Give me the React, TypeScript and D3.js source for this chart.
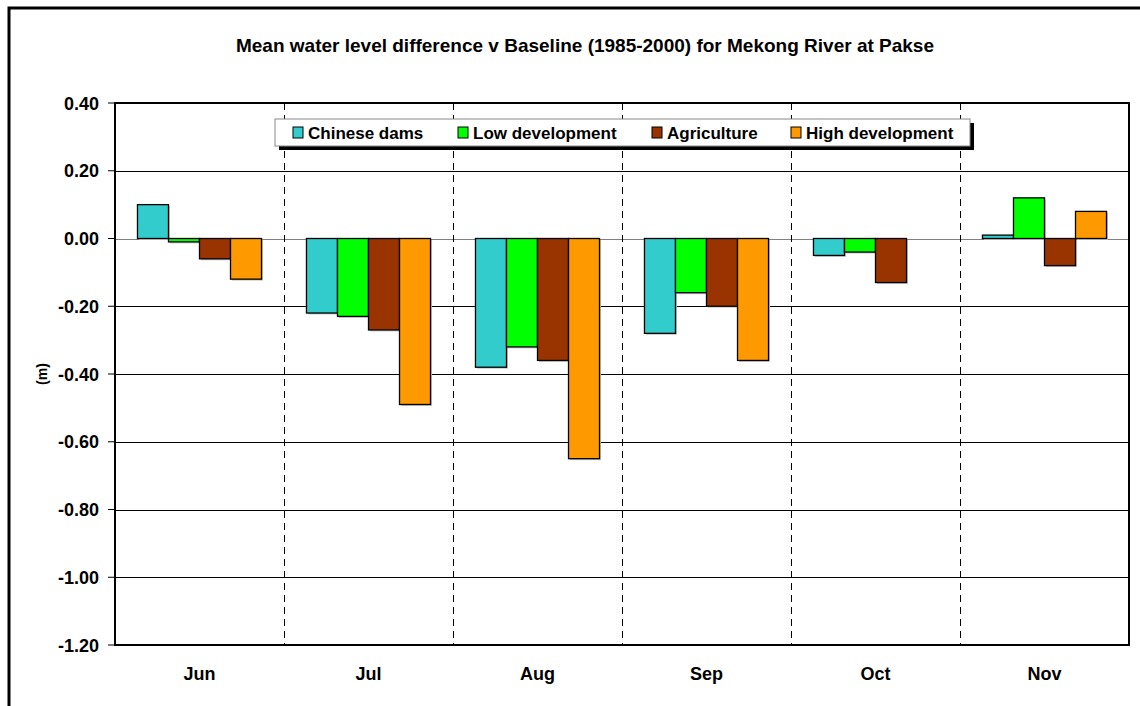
import React from "react";
import * as d3 from "d3";

const months = ["Jun", "Jul", "Aug", "Sep", "Oct", "Nov"];
const seriesNames = ["Chinese dams", "Low development", "Agriculture", "High development"];
const seriesColors = ["#33CCCC", "#00FF00", "#993300", "#FF9900"];
const chineseDams = [0.10, -0.22, -0.38, -0.28, -0.05, 0.01];
const lowDevelopment = [-0.01, -0.23, -0.32, -0.16, -0.04, 0.12];
const agriculture = [-0.06, -0.27, -0.36, -0.20, -0.13, -0.08];
const highDevelopment = [-0.12, -0.49, -0.65, -0.36, 0.0, 0.08];
const yTicks = [0.4, 0.2, 0.0, -0.2, -0.4, -0.6, -0.8, -1.0, -1.2];
const title = "Mean water level difference v Baseline (1985-2000) for Mekong River at Pakse";

export default function App() {
  const W = 1140, H = 706;
  const left = 115, right = 1129, top = 103, bottom = 645;
  const series = [chineseDams, lowDevelopment, agriculture, highDevelopment];
  const x = d3.scaleBand().domain(months).range([left, right]).paddingInner(0).paddingOuter(0);
  const bw = x.bandwidth();
  const inner = d3.scaleBand().domain(seriesNames).range([bw * 0.133, bw * 0.867]).padding(0);
  const y = d3.scaleLinear().domain([-1.2, 0.4]).range([bottom, top]);
  const font = "'Liberation Sans', Arial, Helvetica, sans-serif";
  const fmt = (t: number) => d3.format(".2f")(t).replace("\u2212", "-");

  // legend layout
  const legX = 275, legY = 119, legW = 695, legH = 27;
  const legItemX = [293, 458, 652, 791];

  return (
    <svg width={W} height={H} style={{ position: "absolute", left: 0, top: 0, background: "#fff" }} fontFamily={font}>
      <rect x={0} y={0} width={W} height={H} fill="#fff" />
      {/* outer frame */}
      <rect x={9} y={8} width={1200} height={800} fill="none" stroke="#000" strokeWidth={3} />
      <text x={585} y={52} textAnchor="middle" fontSize={19} fontWeight="bold">{title}</text>

      {/* gridlines */}
      {yTicks.map((t) => (
        <line key={"g" + t} x1={left} x2={right} y1={Math.round(y(t)) + 0.5} y2={Math.round(y(t)) + 0.5}
          stroke={t === 0 ? "#808080" : "#000"} strokeWidth={1} />
      ))}
      {/* vertical dashed separators */}
      {months.slice(1).map((m) => (
        <line key={"v" + m} x1={Math.round(x(m)!) + 0.5} x2={Math.round(x(m)!) + 0.5} y1={top} y2={bottom}
          stroke="#000" strokeWidth={1} strokeDasharray="7,5" />
      ))}

      {/* bars */}
      {months.map((m, i) =>
        series.map((s, j) => {
          const v = s[i];
          if (v === 0) return null;
          const bx = x(m)! + inner(seriesNames[j])!;
          const y0 = y(Math.max(0, v));
          const h = Math.abs(y(v) - y(0));
          return (
            <g key={m + j}>
              <rect x={bx + 1.5} y={y0 + 1.5} width={inner.bandwidth()} height={h} fill="#c8c8c8" />
              <rect x={bx} y={y0} width={inner.bandwidth()} height={h}
                fill={seriesColors[j]} stroke="#000" strokeWidth={1.3} />
            </g>
          );
        })
      )}

      {/* plot border */}
      <rect x={left} y={top} width={right - left} height={bottom - top} fill="none" stroke="#000" strokeWidth={2} />

      {/* y ticks */}
      {yTicks.map((t) => (
        <g key={"t" + t}>
          <line x1={left - 7} x2={left} y1={y(t)} y2={y(t)} stroke="#000" strokeWidth={1} />
          <text x={99} y={y(t) + 6.5} textAnchor="end" fontSize={18} fontWeight="bold">{fmt(t)}</text>
        </g>
      ))}
      <text transform={`translate(47,${y(-0.4)}) rotate(-90)`} textAnchor="middle" fontSize={14} fontWeight="bold">(m)</text>

      {/* x labels */}
      {months.map((m) => (
        <text key={"x" + m} x={x(m)! + bw / 2} y={680} textAnchor="middle" fontSize={18} fontWeight="bold">{m}</text>
      ))}

      {/* legend */}
      <rect x={legX + 4} y={legY + 4} width={legW} height={legH} fill="#000" />
      <rect x={legX} y={legY} width={legW} height={legH} fill="#fff" stroke="#888" strokeWidth={1} />
      {seriesNames.map((n, j) => (
        <g key={"l" + n}>
          <rect x={legItemX[j]} y={legY + 8} width={10} height={11} fill={seriesColors[j]} stroke="#000" strokeWidth={1} />
          <text x={legItemX[j] + 15} y={legY + 20} fontSize={17} fontWeight="bold">{n}</text>
        </g>
      ))}
    </svg>
  );
}
